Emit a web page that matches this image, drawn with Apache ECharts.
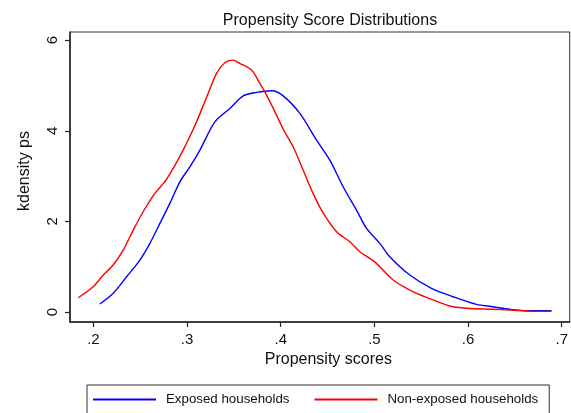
<!DOCTYPE html>
<html>
<head>
<meta charset="utf-8">
<script src="https://cdn.jsdelivr.net/npm/echarts@6/dist/echarts.min.js"></script>
<style>html,body{margin:0;padding:0;background:#fff}#c{width:571px;height:413px}</style>
</head>
<body>
<div id="c"></div>
<script>
const xTicks = [0.2, 0.3, 0.4, 0.5, 0.6, 0.7];
const yTicks = [0, 2, 4, 6];

const exposedX = [0.2069,0.2211,0.2354,0.2496,0.2603,0.2710,0.2816,0.2923,0.3030,0.3137,0.3297,0.3457,0.3599,0.3742,0.3902,0.4026,0.4204,0.4382,0.4524,0.4666,0.4809,0.4916,0.5058,0.5164,0.5378,0.5609,0.5840,0.6090,0.6267,0.6445,0.6623,0.6890];
const exposedY = [0.176,0.413,0.779,1.147,1.516,1.957,2.398,2.874,3.205,3.574,4.198,4.494,4.772,4.847,4.882,4.770,4.383,3.794,3.353,2.764,2.250,1.846,1.516,1.220,0.816,0.523,0.338,0.170,0.117,0.060,0.029,0.029];

const nonExposedX = [0.1838,0.1991,0.2105,0.2211,0.2318,0.2425,0.2531,0.2656,0.2778,0.2958,0.3101,0.3225,0.3315,0.3403,0.3486,0.3563,0.3688,0.3777,0.3830,0.3919,0.4026,0.4132,0.4239,0.4329,0.4435,0.4596,0.4737,0.4844,0.4951,0.5022,0.5200,0.5378,0.5556,0.5805,0.5983,0.6267,0.6445,0.6694,0.6890];
const nonExposedY = [0.315,0.545,0.816,1.037,1.368,1.809,2.213,2.619,2.921,3.574,4.198,4.825,5.266,5.500,5.559,5.486,5.339,5.045,4.860,4.500,4.037,3.647,3.133,2.692,2.250,1.771,1.551,1.330,1.184,1.074,0.706,0.485,0.324,0.132,0.082,0.060,0.044,0.015,0.015];

const seriesNames = ['Exposed households', 'Non-exposed households'];
const FONT = 'Liberation Sans, Arial, Helvetica, sans-serif';
const zip = (a, b) => a.map((v, i) => [v, b[i]]);
const fmt = v => String(+v.toFixed(1)).replace(/^0\./, '.');

const chart = echarts.init(document.getElementById('c'), null, {renderer: 'canvas'});
chart.setOption({
  animation: false,
  backgroundColor: '#fff',
  textStyle: {fontFamily: FONT},
  title: {
    text: 'Propensity Score Distributions',
    left: 325, textAlign: 'center', top: 8,
    textStyle: {fontFamily: FONT, fontSize: 16, fontWeight: 'normal', color: '#111'}
  },
  grid: {left: 70, top: 32, right: 1, bottom: 91, show: true, borderColor: '#333', borderWidth: 1, backgroundColor: '#fff'},
  legend: {
    left: 87, top: 385,
    data: seriesNames,
    icon: 'path://M0,0 L100,0 L100,3 L0,3 Z',
    itemWidth: 63, itemHeight: 2, itemGap: 25,
    padding: [8, 11, 8, 6],
    borderColor: '#333', borderWidth: 1,
    textStyle: {fontFamily: FONT, fontSize: 13.3, color: '#111', padding: [0, 0, 0, 5]}
  },
  xAxis: {
    type: 'value', min: 0.175, max: 0.7085,
    name: 'Propensity scores', nameLocation: 'middle', nameGap: 28,
    nameTextStyle: {fontFamily: FONT, fontSize: 16, color: '#111', padding: [0, 0, 0, 17]},
    axisLine: {show: true, onZero: false, lineStyle: {color: '#222', width: 1.5}},
    axisTick: {show: true, length: 5, customValues: xTicks, lineStyle: {color: '#222', width: 1.2}},
    axisLabel: {customValues: xTicks, formatter: fmt, fontFamily: FONT, fontSize: 15, color: '#111', margin: 10},
    splitLine: {show: false}
  },
  yAxis: {
    type: 'value', min: -0.22, max: 6.18,
    name: 'kdensity ps', nameLocation: 'middle', nameGap: 37,
    nameTextStyle: {fontFamily: FONT, fontSize: 16, color: '#111', padding: [0, 0, 0, 12]},
    axisLine: {show: true, onZero: false, lineStyle: {color: '#222', width: 1.5}},
    axisTick: {show: true, length: 5, customValues: yTicks, lineStyle: {color: '#222', width: 1.2}},
    axisLabel: {customValues: yTicks, rotate: 90, fontFamily: FONT, fontSize: 15, color: '#111', margin: 10},
    splitLine: {show: false}
  },
  series: [
    {name: seriesNames[0], type: 'line', data: zip(exposedX, exposedY), showSymbol: false, symbol: 'none', smooth: 0.3,
     lineStyle: {color: '#0000ff', width: 1.4}, itemStyle: {color: '#0000ff'}},
    {name: seriesNames[1], type: 'line', data: zip(nonExposedX, nonExposedY), showSymbol: false, symbol: 'none', smooth: 0.3,
     lineStyle: {color: '#ff0000', width: 1.4}, itemStyle: {color: '#ff0000'}}
  ]
});
</script>
</body>
</html>
